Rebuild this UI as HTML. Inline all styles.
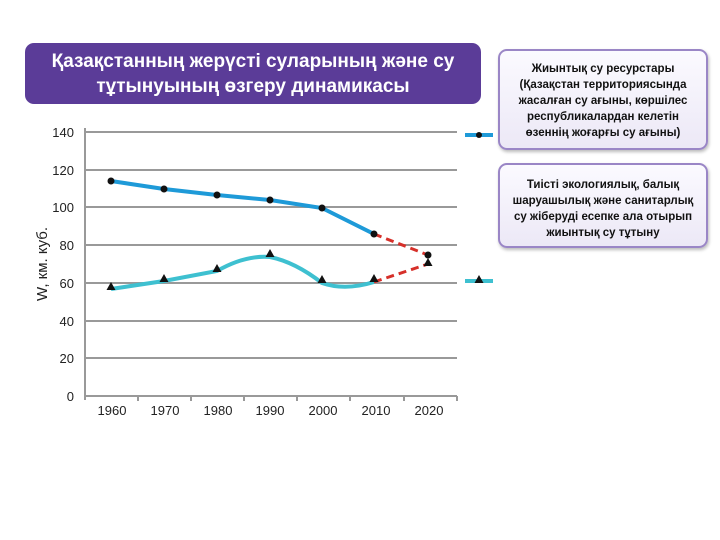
<!DOCTYPE html>
<html><head><meta charset="utf-8"><style>
body{margin:0;width:720px;height:540px;background:#fff;font-family:"Liberation Sans",sans-serif;overflow:hidden;position:relative}
.title{position:absolute;left:25px;top:43px;width:456px;height:61px;background:#5b3c98;border-radius:9px;color:#fff;font-weight:bold;font-size:19px;text-align:center;line-height:25px;padding-top:6px;box-sizing:border-box}
.box{position:absolute;left:498px;width:210px;background:linear-gradient(#fbfaff,#ece8f6);border:2px solid #9a86c6;border-radius:9px;box-sizing:border-box;font-weight:bold;font-size:11.5px;line-height:16px;text-align:center;color:#111;box-shadow:1px 2px 3px #bbb}
</style></head><body>
<div class="title">Қазақстанның жерүсті суларының және су<br>тұтынуының өзгеру динамикасы</div>
<div class="box" style="top:49px;height:101px;padding-top:10px">Жиынтық су ресурстары<br>(Қазақстан территориясында<br>жасалған су ағыны, көршілес<br>республикалардан келетін<br>өзеннің жоғарғы су ағыны)</div>
<div class="box" style="top:163px;height:85px;padding-top:12px">Тиісті экологиялық, балық<br>шаруашылық және санитарлық<br>су жіберуді есепке ала отырып<br>жиынтық су тұтыну</div>
<svg width="720" height="540" style="position:absolute;left:0;top:0">
<g stroke="#999" stroke-width="2">
<line x1="85" y1="132" x2="457" y2="132"/><line x1="85" y1="170" x2="457" y2="170"/><line x1="85" y1="207" x2="457" y2="207"/><line x1="85" y1="245" x2="457" y2="245"/><line x1="85" y1="283" x2="457" y2="283"/><line x1="85" y1="321" x2="457" y2="321"/><line x1="85" y1="358" x2="457" y2="358"/><line x1="85" y1="396" x2="457" y2="396"/>
<line x1="85" y1="128" x2="85" y2="400"/>
<line x1="138" y1="396" x2="138" y2="401"/><line x1="191" y1="396" x2="191" y2="401"/><line x1="244" y1="396" x2="244" y2="401"/><line x1="297" y1="396" x2="297" y2="401"/><line x1="350" y1="396" x2="350" y2="401"/><line x1="404" y1="396" x2="404" y2="401"/><line x1="457" y1="396" x2="457" y2="401"/>
</g>
<g font-size="13" fill="#222" text-anchor="end">
<text x="74" y="137">140</text><text x="74" y="175">120</text><text x="74" y="212">100</text><text x="74" y="250">80</text><text x="74" y="288">60</text><text x="74" y="326">40</text><text x="74" y="363">20</text><text x="74" y="401">0</text>
</g>
<g font-size="13" fill="#222" text-anchor="middle">
<text x="112" y="415">1960</text><text x="165" y="415">1970</text><text x="218" y="415">1980</text><text x="270" y="415">1990</text><text x="323" y="415">2000</text><text x="376" y="415">2010</text><text x="429" y="415">2020</text>
</g>
<text transform="translate(47,264) rotate(-90)" font-size="15" fill="#222" text-anchor="middle">W, км. куб.</text>
<polyline points="111,181 164,189 217,195 270,200 322,208 374,234" fill="none" stroke="#1e9ad8" stroke-width="4"/>
<line x1="374" y1="234" x2="428" y2="255" stroke="#d6302a" stroke-width="3" stroke-dasharray="8,5"/>
<path d="M111,289 L164,281 L217,271 Q245,255 270,257 Q295,262 322,283 Q345,291 374,282" fill="none" stroke="#3ec0d0" stroke-width="4"/>
<line x1="374" y1="282" x2="428" y2="264" stroke="#d6302a" stroke-width="3" stroke-dasharray="8,5"/>
<g fill="#111">
<circle cx="111" cy="181" r="3.5"/><circle cx="164" cy="189" r="3.5"/><circle cx="217" cy="195" r="3.5"/><circle cx="270" cy="200" r="3.5"/><circle cx="322" cy="208" r="3.5"/><circle cx="374" cy="234" r="3.5"/><circle cx="428" cy="255" r="3.5"/>
<path d="M111,282 l-4.5,8 h9z M164,274 l-4.5,8 h9z M217,264 l-4.5,8 h9z M270,249 l-4.5,8 h9z M322,275 l-4.5,8 h9z M374,274 l-4.5,8 h9z M428,258 l-4.5,8 h9z"/>
</g>
<line x1="465" y1="135" x2="493" y2="135" stroke="#1e9ad8" stroke-width="4"/>
<circle cx="479" cy="135" r="3" fill="#111"/>
<line x1="465" y1="281" x2="493" y2="281" stroke="#3ec0d0" stroke-width="4"/>
<path d="M479,275 l-4.5,8 h9z" fill="#111"/>
</svg>
</body></html>
